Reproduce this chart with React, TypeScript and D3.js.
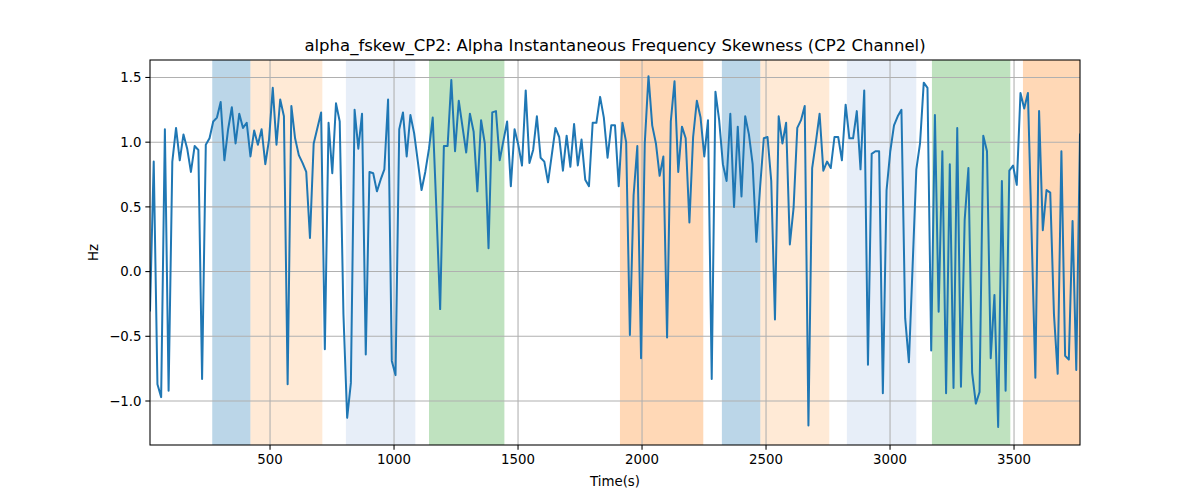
import React from "react";
import * as d3 from "d3";

const T0 = 16;
const DT = 15;

const values: number[] = [
  -0.3, 0.85, -0.87, -0.97, 1.10, -0.92, 0.85, 1.11, 0.86, 1.06,
  0.95, 0.77, 0.97, 0.94, -0.83, 0.98, 1.03, 1.16, 1.19, 1.31,
  0.86, 1.10, 1.27, 0.99, 1.22, 1.11, 1.15, 0.89, 1.09, 0.98,
  1.10, 0.83, 1.02, 1.42, 0.98, 1.33, 1.20, -0.87, 1.28, 1.03,
  0.90, 0.84, 0.77, 0.26, 0.99, 1.11, 1.23, -0.60, 1.15, 0.76,
  1.30, 1.16, -0.33, -1.13, -0.86, 1.25, 0.95, 1.22, -0.64, 0.77,
  0.76, 0.62, 0.71, 0.79, 1.33, -0.69, -0.80, 1.10, 1.23, 0.89,
  1.21, 1.07, 0.85, 0.63, 0.77, 0.95, 1.19, 0.47, -0.29, 0.97,
  0.97, 1.48, 0.93, 1.32, 1.12, 0.92, 1.22, 1.08, 0.62, 1.17,
  0.99, 0.18, 1.23, 1.24, 0.86, 1.01, 1.16, 0.66, 1.10, 0.98,
  0.82, 1.40, 0.84, 0.94, 1.20, 0.88, 0.85, 0.69, 0.90, 1.11,
  1.04, 0.78, 1.05, 0.81, 1.14, 0.82, 1.02, 0.71, 0.66, 1.15,
  1.15, 1.35, 1.19, 0.88, 1.13, 1.13, 0.66, 1.15, 1.00, -0.49,
  0.59, 0.97, -0.67, 0.99, 1.51, 1.13, 0.99, 0.74, 0.89, -0.51,
  1.16, 1.47, 0.77, 1.12, 1.03, 0.38, 1.04, 1.32, 1.19, 0.89,
  1.17, -0.83, 1.39, 1.17, 0.83, 0.70, 1.22, 0.50, 1.12, 0.58,
  1.20, 1.06, 0.83, 0.23, 0.65, 1.03, 1.04, 0.70, -0.37, 1.20,
  0.99, 1.15, 0.21, 0.49, 1.11, 1.17, 1.28, -1.19, 0.80, 1.00,
  1.22, 0.78, 0.85, 0.80, 1.04, 1.04, 0.86, 1.29, 1.03, 1.03,
  1.24, 0.79, 1.40, -0.72, 0.91, 0.93, 0.93, -0.94, 0.63, 0.93,
  1.13, 1.20, 1.25, -0.36, -0.70, 0.04, 0.79, 0.99, 1.46, 1.42,
  -0.61, 1.21, -0.31, 0.93, -0.94, 0.83, -0.90, 1.11, -0.89, 0.40,
  0.80, -0.78, -1.02, -0.93, 1.05, 0.93, -0.67, -0.18, -1.20, 0.70,
  -0.92, 0.78, 0.82, 0.67, 1.38, 1.26, 1.38, 0.29, -0.82, 1.24,
  0.32, 0.63, 0.61, -0.33, -0.79, 0.93, -0.65, -0.68, 0.39, -0.76,
  1.06,
];

const spanStarts = [267, 421, 806, 1141, 1911, 2322, 2477, 2826, 3169, 3536];
const spanEnds = [421, 711, 1086, 1445, 2247, 2477, 2755, 3106, 3485, 3766];
const spanColors = ["#1f77b4", "#ffbb78", "#aec7e8", "#2ca02c", "#ff7f0e", "#1f77b4", "#ffbb78", "#aec7e8", "#2ca02c", "#ff7f0e"];

const xTicks = [500, 1000, 1500, 2000, 2500, 3000, 3500];
const yTicks = [-1.0, -0.5, 0.0, 0.5, 1.0, 1.5];

const title = "alpha_fskew_CP2: Alpha Instantaneous Frequency Skewness (CP2 Channel)";
const xLabel = "Time(s)";
const yLabel = "Hz";

export default function App() {
  const W = 1200, H = 500;
  const left = 150, right = 1080, top = 60, bottom = 445;
  const times = values.map((_, i) => T0 + i * DT);
  const x = d3.scaleLinear().domain([times[0], times[times.length - 1]]).range([left, right]);
  const y = d3.scaleLinear().domain([-1.34, 1.635]).range([bottom, top]);
  const line = d3.line<number>().x((_, i) => x(times[i])).y((d) => y(d));
  const font = "DejaVu Sans, sans-serif";
  const fmt = (v: number) => (v < 0 ? "\u2212" : "") + Math.abs(v).toFixed(1);

  return (
    <svg width={W} height={H} style={{ position: "absolute", left: 0, top: 0, background: "#fff" }} fontFamily={font}>
      <defs>
        <clipPath id="plotclip">
          <rect x={left} y={top} width={right - left} height={bottom - top} />
        </clipPath>
      </defs>
      <rect x={0} y={0} width={W} height={H} fill="#fff" />
      {spanStarts.map((s, i) => (
        <rect key={"s" + i} x={x(s)} y={top} width={x(spanEnds[i]) - x(s)} height={bottom - top} fill={spanColors[i]} fillOpacity={0.3} />
      ))}
      {xTicks.map((t) => (
        <line key={"gx" + t} x1={x(t)} x2={x(t)} y1={top} y2={bottom} stroke="#b0b0b0" strokeWidth={1.07} />
      ))}
      {yTicks.map((t) => (
        <line key={"gy" + t} x1={left} x2={right} y1={y(t)} y2={y(t)} stroke="#b0b0b0" strokeWidth={1.07} />
      ))}
      <path d={line(values) || ""} fill="none" stroke="#1f77b4" strokeWidth={2} strokeLinejoin="round" strokeLinecap="square" clipPath="url(#plotclip)" />
      <rect x={left} y={top} width={right - left} height={bottom - top} fill="none" stroke="#000" strokeWidth={1.07} />
      {xTicks.map((t) => (
        <g key={"tx" + t}>
          <line x1={x(t)} x2={x(t)} y1={bottom} y2={bottom + 4.67} stroke="#000" strokeWidth={1.07} />
          <text x={x(t)} y={bottom + 18.5} textAnchor="middle" fontSize={13.33} fill="#000">{t}</text>
        </g>
      ))}
      {yTicks.map((t) => (
        <g key={"ty" + t}>
          <line x1={left - 4.67} x2={left} y1={y(t)} y2={y(t)} stroke="#000" strokeWidth={1.07} />
          <text x={left - 8.5} y={y(t) + 4.8} textAnchor="end" fontSize={13.33} fill="#000">{fmt(t)}</text>
        </g>
      ))}
      <text x={(left + right) / 2} y={51} textAnchor="middle" fontSize={16.5} fill="#000">{title}</text>
      <text x={(left + right) / 2} y={486} textAnchor="middle" fontSize={13.33} fill="#000">{xLabel}</text>
      <text transform={`translate(98, ${(top + bottom) / 2}) rotate(-90)`} textAnchor="middle" fontSize={13.33} fill="#000">{yLabel}</text>
    </svg>
  );
}
